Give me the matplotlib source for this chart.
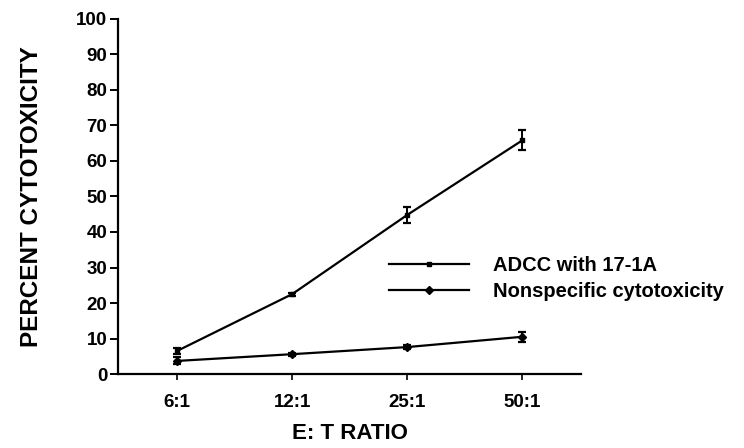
import matplotlib.pyplot as plt
from matplotlib.lines import Line2D

# data
ratios = ['6:1', '12:1', '25:1', '50:1']
adcc = [6.5, 22.5, 44.8, 65.8]
adcc_err = [0.8, 0.4, 2.2, 2.8]
nonspec = [3.7, 5.6, 7.6, 10.5]
nonspec_err = [1.0, 0.4, 0.5, 1.4]
yticks = list(range(0, 101, 10))

plt.rcParams['font.family'] = ['Liberation Sans', 'DejaVu Sans']
plt.rcParams['font.weight'] = 'bold'

fig = plt.figure(figsize=(7.44, 4.48), dpi=100)
ax = fig.add_axes([0.159, 0.165, 0.622, 0.793])

x = list(range(len(ratios)))
ax.errorbar(x, adcc, yerr=adcc_err, color='black', lw=1.6, marker='s', ms=3.5,
            capsize=3, elinewidth=1.4, capthick=1.6)
ax.errorbar(x, nonspec, yerr=nonspec_err, color='black', lw=1.6, marker='D', ms=4.5,
            capsize=3, elinewidth=1.4, capthick=1.6)

ax.set_xlim(-0.51, 3.51)
ax.set_ylim(0, 100)
ax.set_xticks(x)
ax.set_xticklabels(ratios, fontsize=13.5, fontweight='bold')
ax.set_yticks(yticks)
ax.set_yticklabels([str(v) for v in yticks], fontsize=13.5, fontweight='bold')

for s in ['top', 'right']:
    ax.spines[s].set_visible(False)
ax.spines['left'].set_linewidth(1.6)
ax.spines['bottom'].set_linewidth(1.6)
ax.tick_params(axis='y', direction='out', length=6, width=1.4, pad=2)
ax.tick_params(axis='x', direction='out', length=4, width=1.2, pad=10)

ax.set_ylabel('PERCENT CYTOTOXICITY', fontsize=17.5, fontweight='bold', labelpad=24)
ax.set_xlabel('E: T RATIO', fontsize=16, fontweight='bold', labelpad=9)

handles = [
    Line2D([], [], color='black', lw=1.6, marker='s', ms=3.5, label='ADCC with 17-1A'),
    Line2D([], [], color='black', lw=1.6, marker='D', ms=4.5, label='Nonspecific cytotoxicity'),
]
fig.legend(handles=handles, loc='center left', bbox_to_anchor=(0.498, 0.378),
           frameon=False, fontsize=14.5, handlelength=4.0, handletextpad=1.2,
           labelspacing=0.35, borderpad=0.4)

fig.savefig('out.png', dpi=100)
